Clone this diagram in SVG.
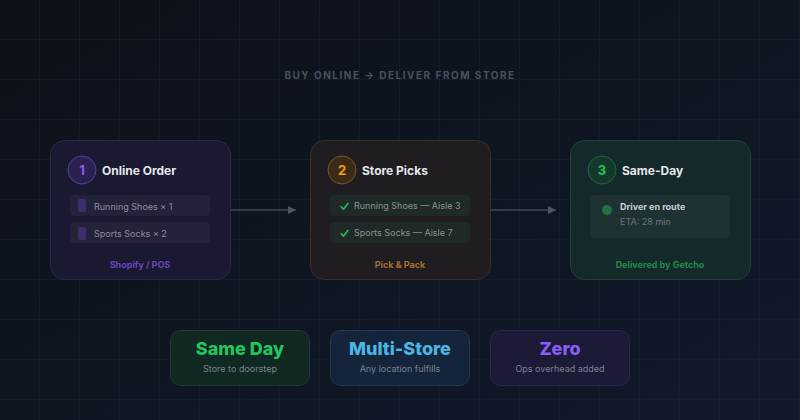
<svg xmlns="http://www.w3.org/2000/svg" width="800" height="420" viewBox="0 0 800 420">
<defs>
<linearGradient id="bg" x1="0" y1="0" x2="1" y2="1">
<stop offset="0" stop-color="#0d1117"/>
<stop offset="1" stop-color="#111a2c"/>
</linearGradient>
<pattern id="grid" width="40" height="40" patternUnits="userSpaceOnUse">
<path d="M40 0V40M0 40H40" fill="none" stroke="#1a2132" stroke-width="1"/>
</pattern>
<marker id="arr" viewBox="0 0 10 10" refX="10" refY="5" markerWidth="12" markerHeight="8" markerUnits="userSpaceOnUse" orient="auto">
<path d="M0 0L10 5L0 10Z" fill="#4b5563"/>
</marker>
</defs>
<style>
text{font-family:Inter,"Liberation Sans",sans-serif}
.title{font-size:12px;font-weight:700;fill:#e5e7eb}
.num{font-size:13px;font-weight:700;text-anchor:middle}
.item{font-size:9px;fill:#8b9099}
.foot{font-size:9px;font-weight:700;text-anchor:middle}
.big{font-size:18px;font-weight:800;text-anchor:middle}
.sub{font-size:9px;fill:#7c828d;text-anchor:middle}
.conn{stroke:#3f4654;stroke-width:1.5;fill:none}
</style>
<rect width="800" height="420" fill="url(#bg)"/>
<rect width="800" height="420" fill="url(#grid)"/>
<text x="400" y="79" text-anchor="middle" style="font-size:10px;font-weight:700;letter-spacing:1.5px;fill:#4b5060">BUY ONLINE → DELIVER FROM STORE</text>

<g id="connectors">
<line class="conn" x1="231" y1="210" x2="296" y2="210" marker-end="url(#arr)"/>
<line class="conn" x1="491" y1="210" x2="556" y2="210" marker-end="url(#arr)"/>
</g>

<g id="node-online-order">
<rect x="50.5" y="140.5" width="180" height="139" rx="14" fill="#1a1932" stroke="#2b2850"/>
<circle cx="82" cy="170" r="14" fill="#2a2152" stroke="#55409a"/>
<text class="num" x="82" y="175" fill="#8b5cf6">1</text>
<text class="title" x="102" y="175">Online Order</text>
<rect x="70" y="195" width="140" height="21" rx="4" fill="#24223a"/>
<rect x="78" y="199" width="8" height="13" rx="2" fill="#3c2f6d"/>
<text class="item" x="94" y="210">Running Shoes × 1</text>
<rect x="70" y="222" width="140" height="21" rx="4" fill="#24223a"/>
<rect x="78" y="227" width="8" height="13" rx="2" fill="#3c2f6d"/>
<text class="item" x="94" y="237">Sports Socks × 2</text>
<text class="foot" x="140" y="268" fill="#6747b8">Shopify / POS</text>
</g>

<g id="node-store-picks">
<rect x="310.5" y="140.5" width="180" height="139" rx="14" fill="#1f1d22" stroke="#3d3022"/>
<circle cx="342" cy="170" r="14" fill="#3a2a16" stroke="#7a5524"/>
<text class="num" x="342" y="175" fill="#f59e0b">2</text>
<text class="title" x="362" y="175">Store Picks</text>
<rect x="330" y="195" width="140" height="21" rx="4" fill="#1f2a28"/>
<path d="M341 206.5l2.5 2.8 4.5-6" fill="none" stroke="#22c55e" stroke-width="1.5" stroke-linecap="round" stroke-linejoin="round"/>
<text class="item" x="354" y="209">Running Shoes — Aisle 3</text>
<rect x="330" y="222" width="140" height="21" rx="4" fill="#1f2a28"/>
<path d="M341 233.5l2.5 2.8 4.5-6" fill="none" stroke="#22c55e" stroke-width="1.5" stroke-linecap="round" stroke-linejoin="round"/>
<text class="item" x="354" y="236">Sports Socks — Aisle 7</text>
<text class="foot" x="400" y="268" fill="#a4702c">Pick &amp; Pack</text>
</g>

<g id="node-same-day">
<rect x="570.5" y="140.5" width="180" height="139" rx="14" fill="#13292a" stroke="#1d4437"/>
<circle cx="602" cy="170" r="14" fill="#13392b" stroke="#1d6a40"/>
<text class="num" x="602" y="175" fill="#22c55e">3</text>
<text class="title" x="622" y="175">Same-Day</text>
<rect x="590" y="195" width="140" height="43" rx="5" fill="#1f3233"/>
<circle cx="607" cy="210" r="5" fill="#1f7443"/>
<text x="620" y="210" style="font-size:9px;font-weight:700;fill:#c9cdd3">Driver en route</text>
<text x="620" y="225" style="font-size:9px;fill:#6b7280">ETA: 28 min</text>
<text class="foot" x="660" y="268" fill="#1f8a4a">Delivered by Getcho</text>
</g>

<g id="stat-same-day">
<rect x="170.5" y="330.5" width="139" height="55" rx="10" fill="#112823" stroke="#1a3c2e"/>
<text class="big" x="240" y="355" fill="#22c55e">Same Day</text>
<text class="sub" x="240" y="372">Store to doorstep</text>
</g>
<g id="stat-multi-store">
<rect x="330.5" y="330.5" width="139" height="55" rx="10" fill="#14243a" stroke="#1f3a50"/>
<text class="big" x="400" y="355" fill="#4cb5e3">Multi-Store</text>
<text class="sub" x="400" y="372">Any location fulfills</text>
</g>
<g id="stat-zero">
<rect x="490.5" y="330.5" width="139" height="55" rx="10" fill="#1b1a37" stroke="#2a2752"/>
<text class="big" x="560" y="355" fill="#8b5cf6">Zero</text>
<text class="sub" x="560" y="372">Ops overhead added</text>
</g>
</svg>
